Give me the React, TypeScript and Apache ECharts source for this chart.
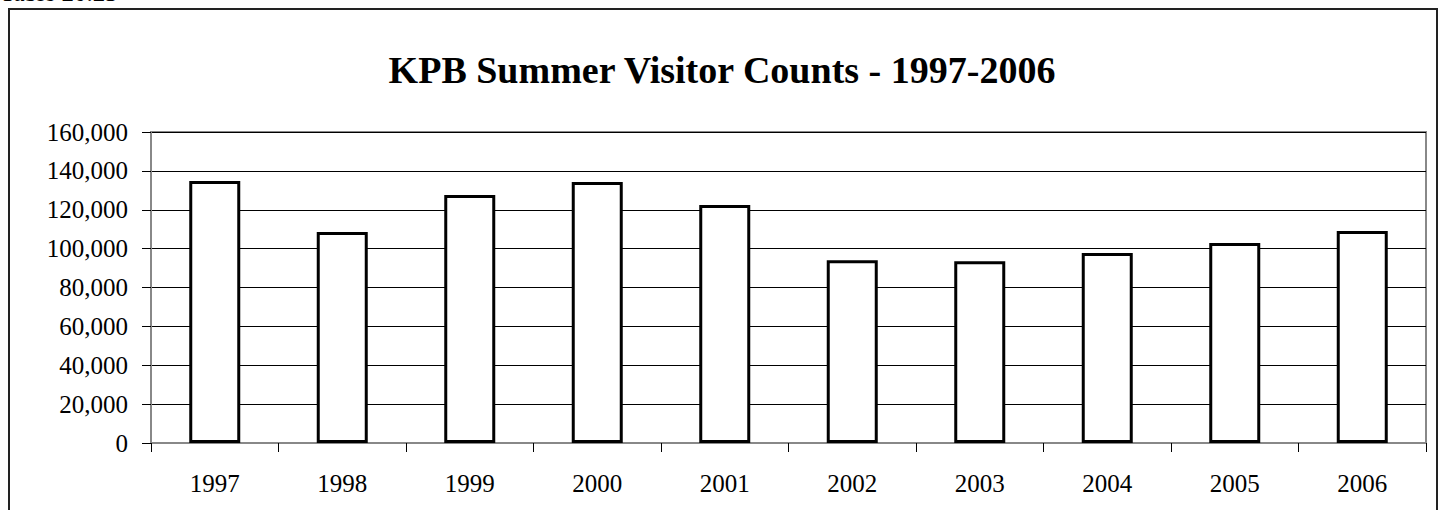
import React, { useEffect, useRef } from "react";
import * as echarts from "echarts";

const years = ["1997", "1998", "1999", "2000", "2001", "2002", "2003", "2004", "2005", "2006"];
const visitors = [134800, 108500, 127600, 134300, 122400, 94000, 93500, 97700, 102900, 109100];
const titleText = "KPB Summer Visitor Counts - 1997-2006";
const tableLabel = "Table 20.23";

export default function App() {
  const ref = useRef<HTMLDivElement>(null);
  useEffect(() => {
    document.body.style.margin = "0";
    const chart = echarts.init(ref.current!, null, { renderer: "svg" });
    const font = "'Liberation Serif', 'Times New Roman', serif";
    chart.setOption({
      animation: false,
      backgroundColor: "#fff",
      title: {
        text: titleText,
        left: "center",
        top: 46,
        textStyle: { fontFamily: font, fontSize: 38, fontWeight: "bold", color: "#000" },
      },
      graphic: [
        {
          type: "rect",
          shape: { x: 9, y: 9, width: 1428, height: 600 },
          style: { fill: "none", stroke: "#222", lineWidth: 2 },
          silent: true,
        },
        {
          type: "text",
          x: 0,
          y: 5,
          style: {
            text: tableLabel,
            font: "25px " + font,
            fill: "#000",
            textVerticalAlign: "bottom",
          },
        },
      ],
      grid: {
        left: 151,
        right: 18,
        top: 132,
        bottom: 67,
        show: true,
        borderColor: "#888",
        borderWidth: 2,
        backgroundColor: "transparent",
      },
      xAxis: {
        type: "category",
        data: years,
        boundaryGap: true,
        axisLine: { show: true, lineStyle: { color: "#888", width: 2 } },
        axisTick: { show: true, length: 9, lineStyle: { color: "#000", width: 1 } },
        axisLabel: { fontFamily: font, fontSize: 25, color: "#000", margin: 28 },
        splitLine: { show: false },
      },
      yAxis: {
        type: "value",
        min: 0,
        max: 160000,
        interval: 20000,
        axisLine: { show: true, lineStyle: { color: "#888", width: 2 } },
        axisTick: { show: true, inside: false, length: 9, lineStyle: { color: "#000", width: 1 } },
        axisLabel: {
          fontFamily: font,
          fontSize: 25,
          color: "#000",
          margin: 23,
          formatter: (v: number) => v.toLocaleString("en-US"),
        },
        splitLine: { show: true, lineStyle: { color: "#000", width: 1 } },
      },
      series: [
        {
          type: "bar",
          data: visitors,
          barWidth: 51,
          itemStyle: { color: "#fff", borderColor: "#000", borderWidth: 3 },
        },
      ],
    });
    return () => chart.dispose();
  }, []);
  return <div ref={ref} style={{ width: 1444, height: 510 }} />;
}
